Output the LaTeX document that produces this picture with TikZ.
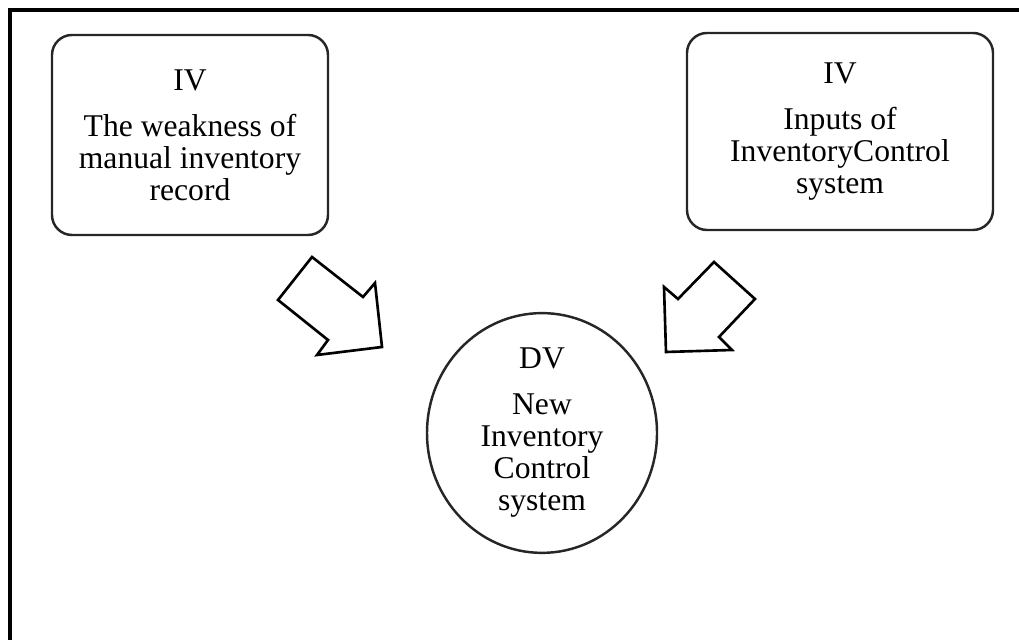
\documentclass[tikz,border=0pt]{standalone}
\usepackage{fontspec}
\setmainfont{Liberation Serif}
\usetikzlibrary{shapes.geometric}

\begin{document}
\begin{tikzpicture}[
    font=\fontsize{18}{18.2}\selectfont,
    box/.style={draw=black!85, rounded corners=4mm, line width=1.4pt, align=center, inner sep=0pt},
    var/.style={draw=black!85, ellipse, line width=1.4pt, align=center, inner sep=0pt},
    blockarr/.style={draw=black, line width=1.5pt, line join=miter, fill=white},
    frame/.style={draw=black, line width=2pt, line join=miter}
]
\useasboundingbox (0,0) rectangle (20.38,12.80);
\draw[frame] (0.20,0) -- (0.20,12.60) -- (20.38,12.60);

% independent variables
\node[box, minimum width=55.2mm, minimum height=40mm] (weak) at (3.80,10.10) {IV\\[8pt]The weakness of\\manual inventory\\record};
\node[box, minimum width=61.2mm, minimum height=39.4mm] (inputs) at (16.80,10.17) {IV\\[8pt]Inputs of\\InventoryControl\\system};

% dependent variable
\node[var, minimum width=46mm, minimum height=47.6mm] (newsys) at (10.84,4.14) {DV\\[8pt]New\\Inventory\\Control\\system};

% block arrows
\draw[blockarr] (5.56,6.80) -- (6.24,7.66) -- (7.26,6.86) -- (7.50,7.14) -- (7.64,5.86) -- (6.34,5.70) -- (6.56,6.00) -- cycle;
\draw[blockarr] (14.28,7.56) -- (15.10,6.82) -- (14.38,6.06) -- (14.64,5.80) -- (13.32,5.76) -- (13.28,7.06) -- (13.56,6.82) -- cycle;

\end{tikzpicture}
\end{document}
